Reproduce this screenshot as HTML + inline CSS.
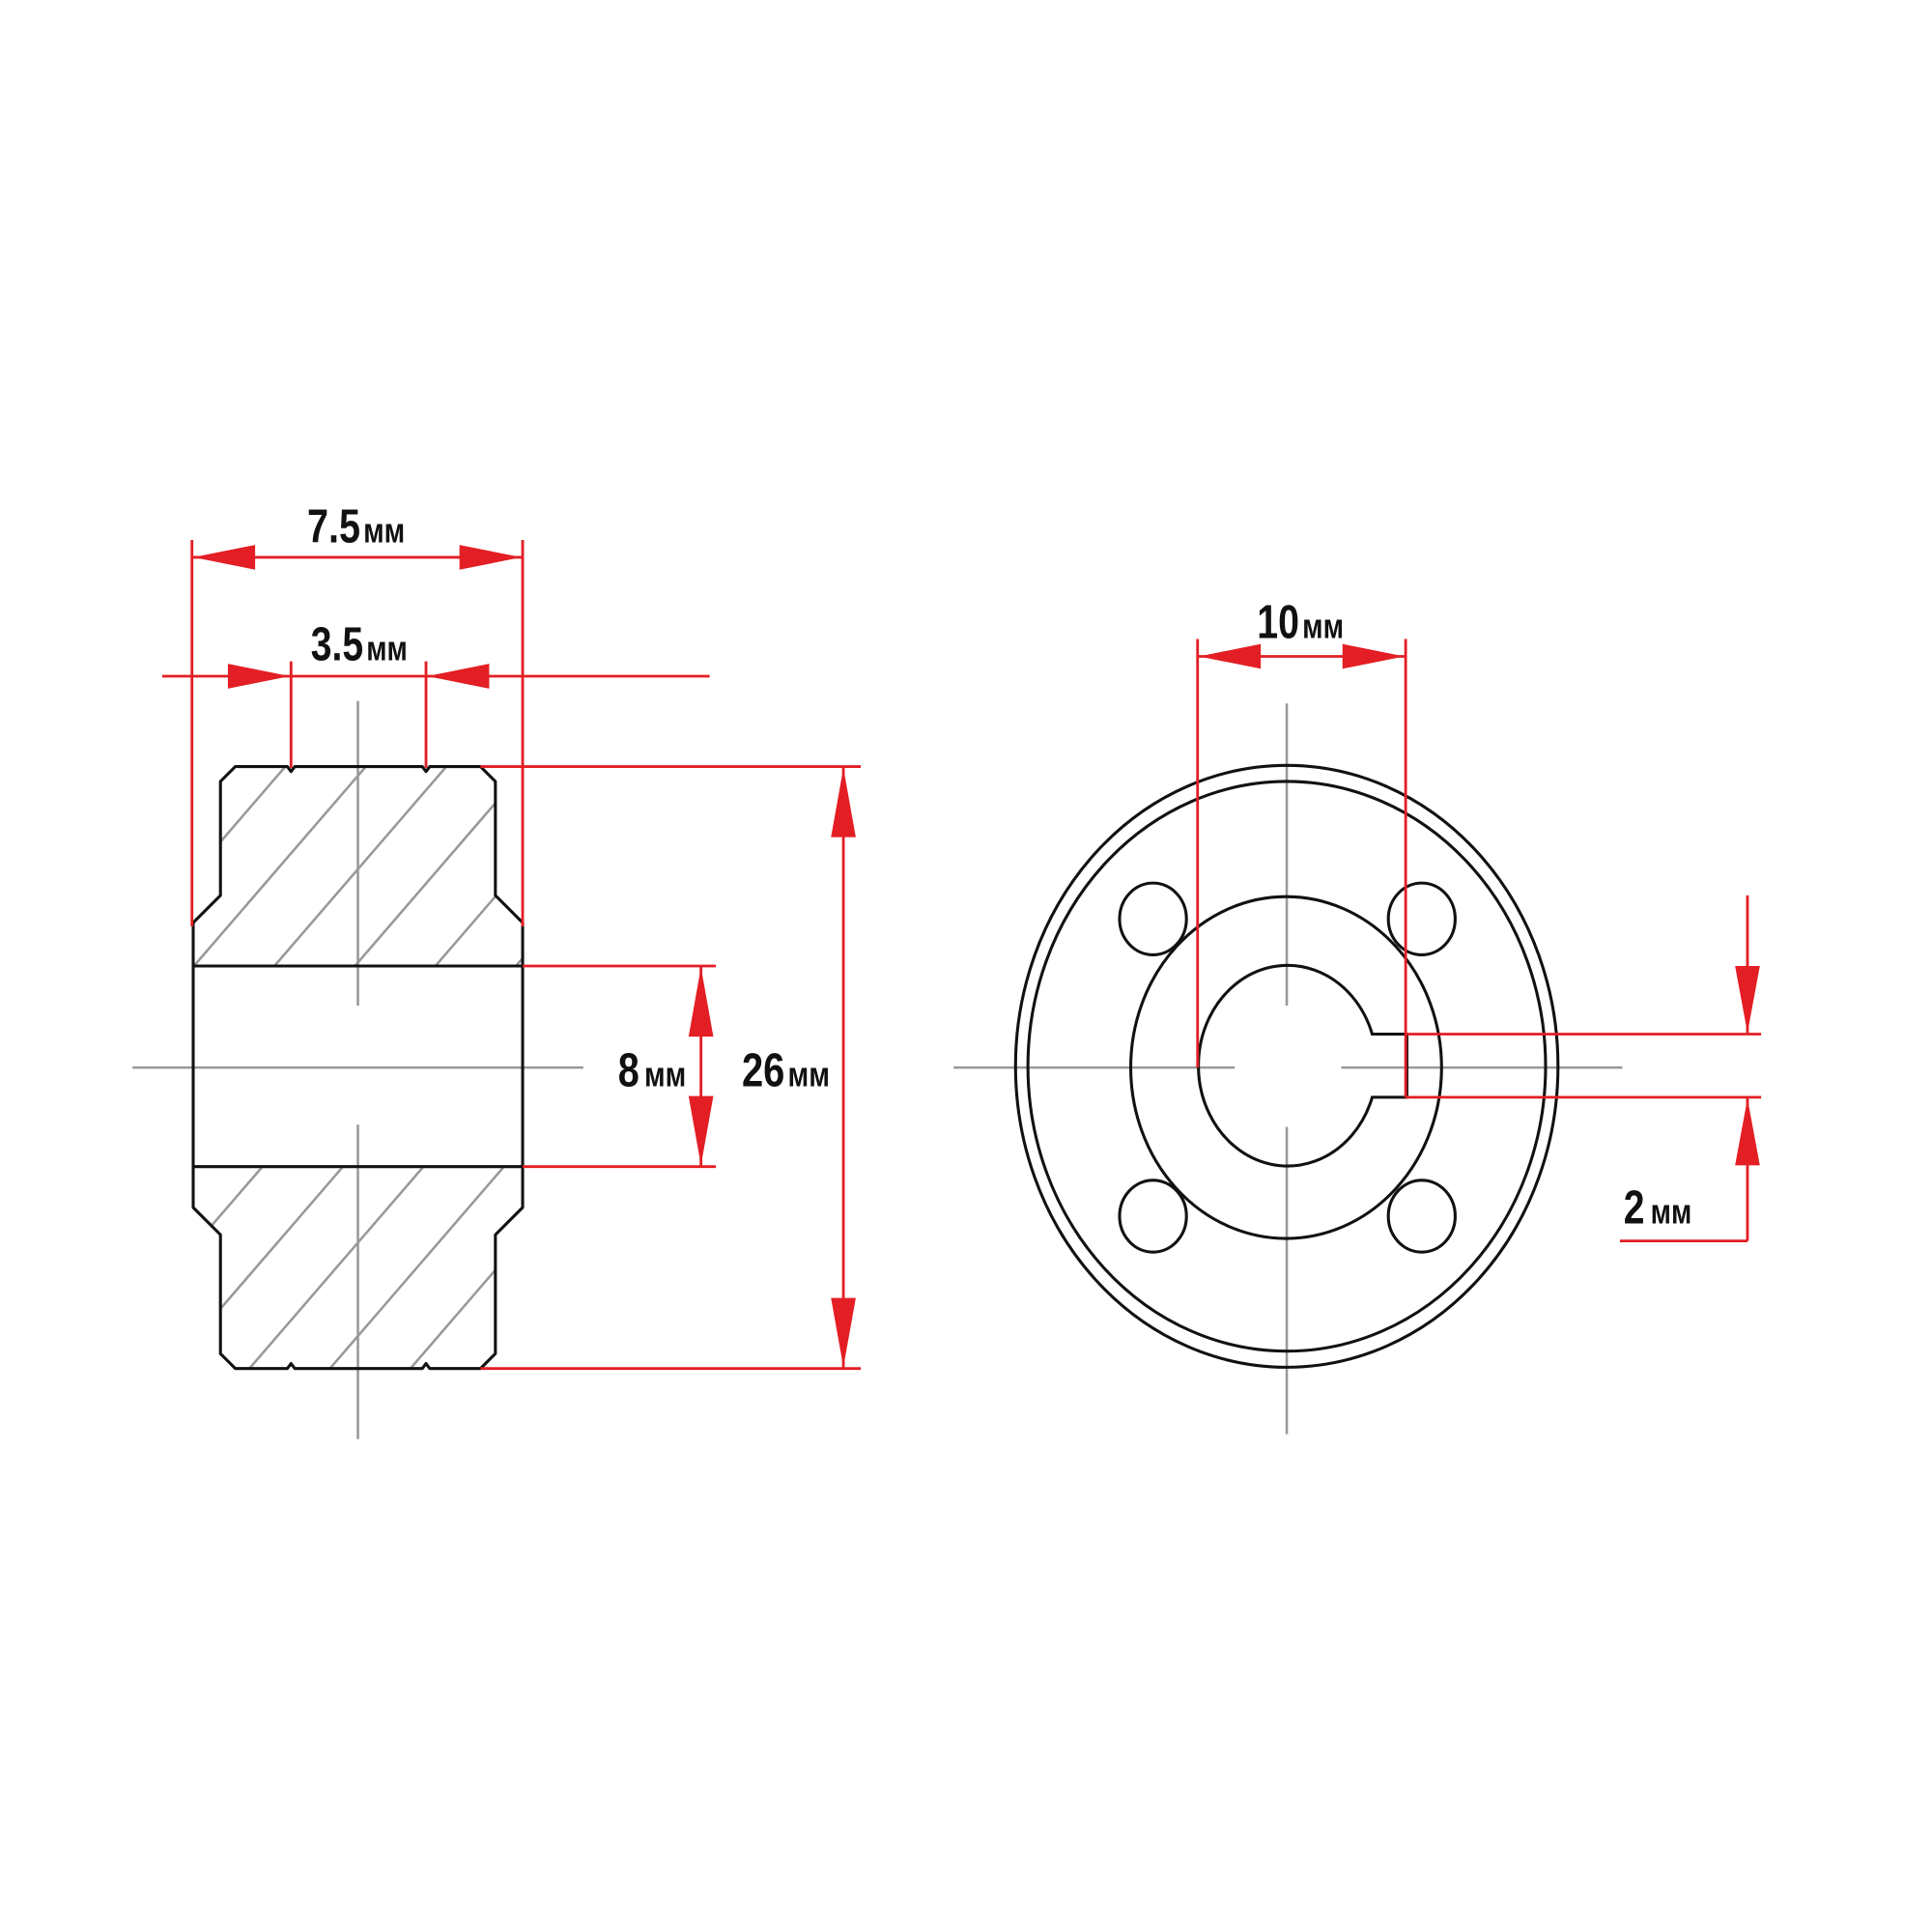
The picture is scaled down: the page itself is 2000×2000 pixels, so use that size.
<!DOCTYPE html>
<html><head><meta charset="utf-8"><style>html,body{margin:0;padding:0;background:#fff}svg{display:block}
text{font-family:"Liberation Sans Narrow","Liberation Sans",sans-serif;font-weight:bold;fill:#111}</style></head>
<body>
<svg width="2000" height="2000" viewBox="0 0 1560 1560" xmlns="http://www.w3.org/2000/svg">
<defs>
<clipPath id="c1"><polygon points="190,619 232,619 235,623 238,619 341,619 344,623 347,619 388,619 400,631 400,723 422,745 422,780 156,780 156,745 178,723 178,631"/></clipPath>
<clipPath id="c2"><polygon points="156,942 422,942 422,975 400,997 400,1093 388,1105 347,1105 344,1101 341,1105 238,1105 235,1101 232,1105 190,1105 178,1093 178,997 156,975"/></clipPath>
<g id="h" stroke="#999" stroke-width="2">
<line x1="-301" y1="1160" x2="199" y2="580"/><line x1="-236" y1="1160" x2="264" y2="580"/><line x1="-171" y1="1160" x2="329" y2="580"/><line x1="-106" y1="1160" x2="394" y2="580"/><line x1="-41" y1="1160" x2="459" y2="580"/><line x1="24" y1="1160" x2="524" y2="580"/><line x1="89" y1="1160" x2="589" y2="580"/><line x1="154" y1="1160" x2="654" y2="580"/><line x1="219" y1="1160" x2="719" y2="580"/><line x1="284" y1="1160" x2="784" y2="580"/><line x1="349" y1="1160" x2="849" y2="580"/><line x1="414" y1="1160" x2="914" y2="580"/>
</g>
</defs>
<g clip-path="url(#c1)"><use href="#h"/></g>
<g clip-path="url(#c2)"><use href="#h"/></g>
<g stroke="#999" stroke-width="2">
<line x1="107" y1="862" x2="471" y2="862"/>
<line x1="289" y1="566" x2="289" y2="812"/><line x1="289" y1="908" x2="289" y2="1162"/>
<line x1="770" y1="862" x2="997" y2="862"/><line x1="1083" y1="862" x2="1310" y2="862"/>
<line x1="1039" y1="568" x2="1039" y2="812"/><line x1="1039" y1="910" x2="1039" y2="1158"/>
</g>
<g fill="none" stroke="#111" stroke-width="2.4" stroke-linejoin="round">
<polygon points="190,619 232,619 235,623 238,619 341,619 344,623 347,619 388,619 400,631 400,723 422,745 422,780 156,780 156,745 178,723 178,631"/>
<polygon points="156,942 422,942 422,975 400,997 400,1093 388,1105 347,1105 344,1101 341,1105 238,1105 235,1101 232,1105 190,1105 178,1093 178,997 156,975"/>
<line x1="156" y1="780" x2="156" y2="942"/><line x1="422" y1="780" x2="422" y2="942"/>
</g>
<g fill="none" stroke="#111" stroke-width="2.4">
<ellipse cx="1039" cy="861" rx="219" ry="243"/>
<ellipse cx="1039" cy="861" rx="209" ry="230"/>
<ellipse cx="1038.5" cy="862" rx="125.5" ry="138"/>
<path d="M1108,835 A72,81 0 1 0 1108,886 L1136,886 L1136,835 Z"/>
<ellipse cx="931" cy="742" rx="27" ry="29"/><ellipse cx="1148" cy="742" rx="27" ry="29"/>
<ellipse cx="931" cy="982" rx="27" ry="29"/><ellipse cx="1148" cy="982" rx="27" ry="29"/>
</g>
<g stroke="#e31e24" stroke-width="2.2">
<line x1="155" y1="436" x2="155" y2="748"/><line x1="422" y1="436" x2="422" y2="748"/>
<line x1="155" y1="450" x2="422" y2="450"/>
<line x1="131" y1="546" x2="573" y2="546"/>
<line x1="235" y1="534" x2="235" y2="620"/><line x1="344" y1="534" x2="344" y2="620"/>
<line x1="388" y1="619" x2="695" y2="619"/><line x1="388" y1="1105" x2="695" y2="1105"/>
<line x1="681" y1="619" x2="681" y2="1105"/>
<line x1="422" y1="780" x2="578" y2="780"/><line x1="422" y1="942" x2="578" y2="942"/>
<line x1="566" y1="780" x2="566" y2="942"/>
<line x1="967" y1="516" x2="967" y2="862"/><line x1="1135" y1="516" x2="1135" y2="886"/>
<line x1="967" y1="530" x2="1135" y2="530"/>
<line x1="1135" y1="835" x2="1422" y2="835"/><line x1="1135" y1="886" x2="1422" y2="886"/>
<line x1="1411" y1="723" x2="1411" y2="835"/><line x1="1411" y1="886" x2="1411" y2="1002"/>
<line x1="1308" y1="1002" x2="1411" y2="1002"/>
</g>
<g fill="#e31e24">
<polygon points="156,450 206,440 206,460"/><polygon points="421,450 371,440 371,460"/>
<polygon points="234,546 184,536 184,556"/><polygon points="345,546 395,536 395,556"/>
<polygon points="681,620 671,676 691,676"/><polygon points="681,1104 671,1048 691,1048"/>
<polygon points="566,781 556,837 576,837"/><polygon points="566,941 556,885 576,885"/>
<polygon points="968,530 1018,520 1018,540"/><polygon points="1134,530 1084,520 1084,540"/>
<polygon points="1411,834 1401,780 1421,780"/><polygon points="1411,887 1401,941 1421,941"/>
</g>
<text x="248" y="438" font-size="38" textLength="79" lengthAdjust="spacingAndGlyphs">7.5<tspan font-size="28" dx="3">мм</tspan></text>
<text x="251" y="533" font-size="38" textLength="78" lengthAdjust="spacingAndGlyphs">3.5<tspan font-size="28" dx="3">мм</tspan></text>
<text x="499" y="877" font-size="38" textLength="55" lengthAdjust="spacingAndGlyphs">8<tspan font-size="28" dx="5">мм</tspan></text>
<text x="599" y="877" font-size="38" textLength="71" lengthAdjust="spacingAndGlyphs">26<tspan font-size="28" dx="3">мм</tspan></text>
<text x="1015" y="515" font-size="38" textLength="70" lengthAdjust="spacingAndGlyphs">10<tspan font-size="28" dx="3">мм</tspan></text>
<text x="1311" y="988" font-size="38" textLength="55" lengthAdjust="spacingAndGlyphs">2<tspan font-size="28" dx="6">мм</tspan></text>
</svg>
</body></html>
